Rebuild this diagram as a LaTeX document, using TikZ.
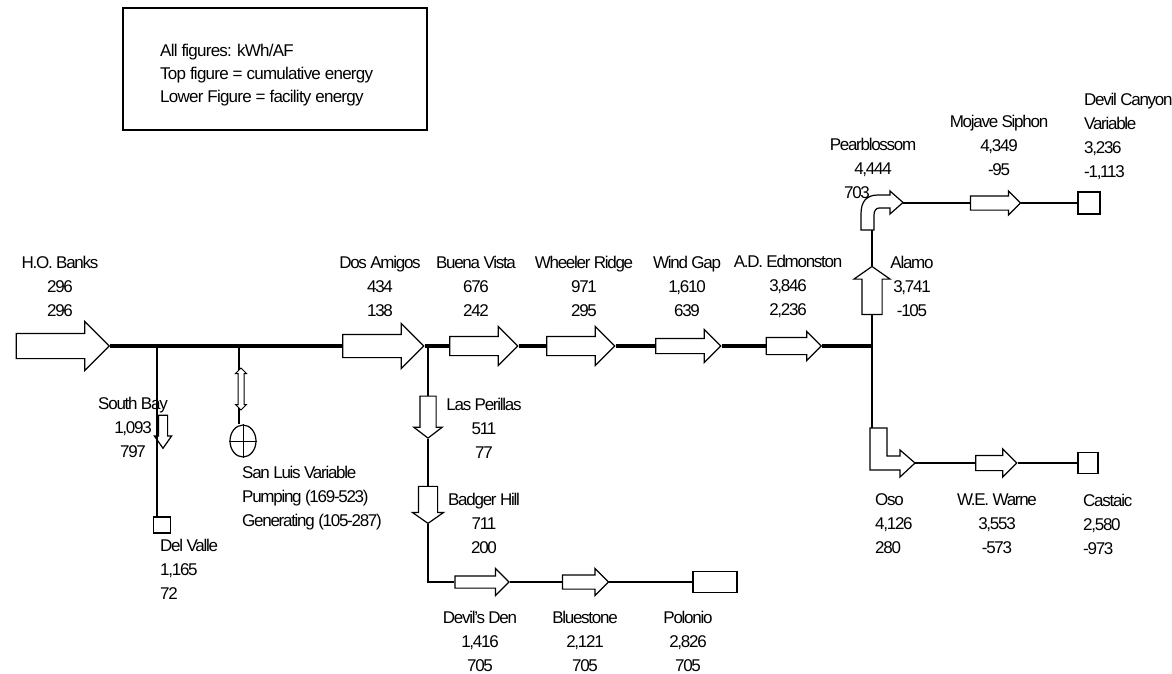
\documentclass[tikz,border=0pt]{standalone}
\usepackage{fontspec}
\setmainfont{Liberation Sans}[LetterSpace=-7.5]
\usepackage{tikz}
\usetikzlibrary{shapes.arrows,shapes.geometric}

\tikzset{
pump/.style 2 args={single arrow,draw,fill=white,line width=1.2pt,inner xsep=0pt,inner ysep=#1,text height=0pt,text depth=0pt,minimum width=0pt,single arrow head extend=#2},
tank/.style={draw,fill=white,line width=1.2pt,inner sep=0pt},
mainline/.style={line width=4pt},
branch/.style={line width=2pt},
station/.style={align=center,inner sep=0pt},
stationleft/.style={align=left,inner sep=0pt,anchor=west}
}

\begin{document}
\begin{tikzpicture}[x=1pt,y=-1pt,font=\fontsize{17}{24}\selectfont]
\useasboundingbox (0,0) rectangle (1172,674);
\node[draw,line width=1.5pt,minimum width=304pt,minimum height=122pt](legend) at (275,69){};
\node[stationleft,font=\fontsize{17}{23}\selectfont\addfontfeatures{LetterSpace=-4.5}](legendtext) at (160,75){All figures: kWh/AF\\Top figure = cumulative energy\\Lower Figure = facility energy};
%main line
\node[pump={12pt}{12pt},minimum height=93pt](banks) at (56.5,346){};
\node[pump={11pt}{11pt},minimum height=81pt](dosamigos) at (377.5,346){};
\node[pump={9pt}{10pt},minimum height=68pt](buenavista) at (479,346){};
\node[pump={9pt}{10pt},minimum height=68pt](wheeler) at (576,346){};
\node[pump={7pt}{9pt},minimum height=65pt](windgap) at (684.5,346){};
\node[pump={8pt}{6pt},minimum height=55pt](edmonston) at (789.5,346){};
\coordinate(sbj) at (157,346);
\coordinate(slj) at (239,346);
\coordinate(lpj) at (428,346);
\coordinate(jct) at (872,346);
\draw[mainline](banks.tip)--(dosamigos.tail) (dosamigos.tip)--(buenavista.tail)
(buenavista.tip)--(wheeler.tail) (wheeler.tip)--(windgap.tail)
(windgap.tip)--(edmonston.tail) (edmonston.tip)--(jct);
%south bay and san luis
\node[tank,minimum width=17pt,minimum height=16pt](dvbox) at (162,525){};
\node[pump={4pt}{4pt},minimum height=33pt,rotate=-90,single arrow tip angle=70](southbay) at (163,428.5){};
\node[ellipse,draw,line width=1.2pt,minimum width=26pt,minimum height=32pt,inner sep=0pt](sanluis) at (243,441){};
\draw[line width=1pt](sanluis.north)--(sanluis.south) (sanluis.west)--(sanluis.east);
\draw[branch](sbj)--(sbj|-dvbox.north);
\draw[branch](slj)--(slj|-sanluis.north);
\node[double arrow,draw,fill=white,line width=1pt,inner xsep=0pt,inner ysep=2.5pt,text height=0pt,text depth=0pt,minimum width=0pt,double arrow head extend=2.5pt,minimum height=42pt,rotate=90](sanluisarrow) at (241,389){};
%coastal branch
\node[pump={7.5pt}{6pt},minimum height=42pt,rotate=-90,single arrow tip angle=105](perillas) at (428,414){};
\node[pump={9pt}{6pt},minimum height=37pt,rotate=-90,single arrow tip angle=110](badger) at (428,501.5){};
\node[pump={5.5pt}{7.5pt},minimum height=54pt](devilsden) at (479,582){};
\node[pump={6.5pt}{6.5pt},minimum height=46pt](bluestone) at (582,582){};
\node[tank,minimum width=44pt,minimum height=21pt](pbox) at (715,582){};
\draw[branch](lpj)--(perillas.tail) (perillas.tip)--(badger.tail) (badger.tip)|-(devilsden.tail)
(devilsden.tip)--(bluestone.tail) (bluestone.tip)--(pbox.west);
%east and west branches
\node[pump={9.5pt}{8pt},minimum height=48pt,rotate=90,single arrow tip angle=110](alamo) at (872,294){};
\draw[fill=white,line width=1.2pt](861,230)--(861,214) .. controls (861,202) and (866,195) .. (878,195)--(890,195)--(890,191)--(903,202.5)--(890,214)--(890,208)--(879,208) .. controls (876,208) and (874,211) .. (874,215)--(874,230)--cycle;
\coordinate(pbtail) at (872,230);
\coordinate(pbtip) at (903,203);
\draw[fill=white,line width=1.2pt](870,428)--(887,428)--(887,456)--(900,456)--(900,450)--(915,463)--(900,477)--(900,470)--(870,470)--cycle;
\coordinate(osotail) at (872,428);
\coordinate(osotip) at (915,463);
\node[pump={6.5pt}{5pt},minimum height=50pt](mojave) at (992,203){};
\node[pump={7pt}{6.5pt},minimum height=41pt](warne) at (992.5,463){};
\node[tank,minimum width=22pt,minimum height=22pt](dcbox) at (1089,203){};
\node[tank,minimum width=20pt,minimum height=21pt](cbox) at (1088,463){};
\draw[branch](jct)--(alamo.tail) (alamo.tip)--(pbtail) (jct)--(osotail);
\draw[branch](pbtip)--(mojave.tail) (mojave.tip)--(dcbox.west)
(osotip)--(warne.tail) (warne.tip)--(cbox.west);
%labels
\node[station](lbanks) at (60,286){H.O. Banks\\296\\296};
\node[station](ldosamigos) at (380,286){Dos Amigos\\434\\138};
\node[station](lbuenavista) at (476,286){Buena Vista\\676\\242};
\node[station](lwheeler) at (584,286){Wheeler Ridge\\971\\295};
\node[station](lwindgap) at (687,286){Wind Gap\\1,610\\639};
\node[station](ledmonston) at (788,286){A.D. Edmonston\\3,846\\2,236};
\node[station](lalamo) at (912,286){Alamo\\3,741\\-105};
\node[station](lsouthbay) at (133,427){South Bay\\1,093\\797};
\node[stationleft](lsanluis) at (242,498){San Luis Variable\\Pumping (169-523)\\Generating (105-287)};
\node[stationleft](ldelvalle) at (160,569){Del Valle\\1,165\\72};
\node[station](lperillas) at (484,428){Las Perillas\\511\\77};
\node[station](lbadger) at (484,523){Badger Hill\\711\\200};
\node[station](ldevilsden) at (480,641){Devil's Den\\1,416\\705};
\node[station](lbluestone) at (585,641){Bluestone\\2,121\\705};
\node[station](lpolonio) at (688,641){Polonio\\2,826\\705};
\node[station](lpearblossom) at (873,168){Pearblossom\\4,444\hspace*{42pt}\\703\hspace*{32pt}};
\node[station](lmojave) at (999,145){Mojave Siphon\\4,349\\-95};
\node[stationleft](ldevilcanyon) at (1084,136){Devil Canyon\\Variable\\3,236\\-1,113};
\node[stationleft](loso) at (875,524){Oso\\4,126\\280};
\node[station](lwarne) at (997,524){W.E. Warne\\3,553\\-573};
\node[stationleft](lcastaic) at (1083,524){Castaic\\2,580\\-973};
\end{tikzpicture}
\end{document}
